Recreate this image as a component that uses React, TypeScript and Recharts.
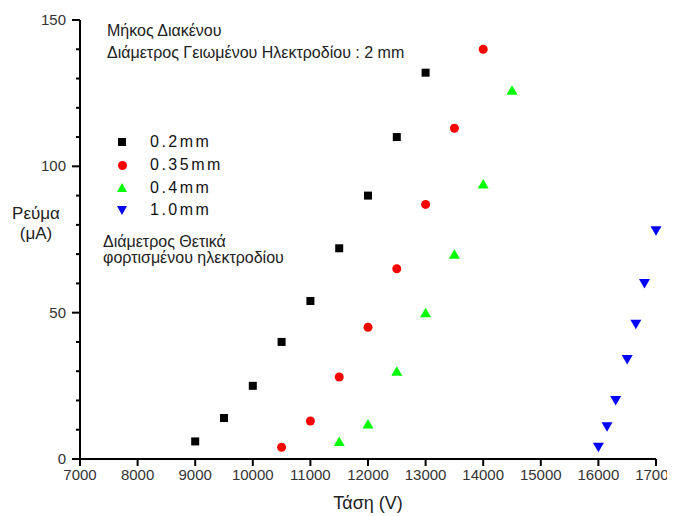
import React from 'react';
import { ScatterChart, Scatter, XAxis, YAxis } from 'recharts';

const xTicks = [7000, 8000, 9000, 10000, 11000, 12000, 13000, 14000, 15000, 16000, 17000];
const yTicks = [0, 10, 20, 30, 40, 50, 60, 70, 80, 90, 100, 110, 120, 130, 140, 150];
const yMajor = [0, 50, 100, 150];

const gap02x = [9000, 9500, 10000, 10500, 11000, 11500, 12000, 12500, 13000];
const gap02y = [6, 14, 25, 40, 54, 72, 90, 110, 132];
const gap035x = [10500, 11000, 11500, 12000, 12500, 13000, 13500, 14000];
const gap035y = [4, 13, 28, 45, 65, 87, 113, 140];
const gap04x = [11500, 12000, 12500, 13000, 13500, 14000, 14500];
const gap04y = [6, 12, 30, 50, 70, 94, 126];
const gap10x = [16000, 16150, 16300, 16500, 16650, 16800, 17000];
const gap10y = [4, 11, 20, 34, 46, 60, 78];

const seriesNames = ['0.2mm', '0.35mm', '0.4mm', '1.0mm'];

const toPoints = (xs: number[], ys: number[]) => xs.map((x, i) => ({ x, y: ys[i] }));

const font = '"Liberation Sans", Arial, sans-serif';

const Square = ({ cx, cy }: any) => <rect x={cx - 4} y={cy - 4} width={8} height={8} fill="#000" />;
const Dot = ({ cx, cy }: any) => <circle cx={cx} cy={cy} r={4.5} fill="#ff0000" />;
const Up = ({ cx, cy }: any) => (
  <polygon points={`${cx - 5.5},${cy + 4.5} ${cx + 5.5},${cy + 4.5} ${cx},${cy - 5}`} fill="#00ff00" />
);
const Down = ({ cx, cy }: any) => (
  <polygon points={`${cx - 5.5},${cy - 4.5} ${cx + 5.5},${cy - 4.5} ${cx},${cy + 5}`} fill="#0000ff" />
);

const shapes = [Square, Dot, Up, Down];

const legendIcons: React.CSSProperties[] = [
  { width: 8, height: 8, background: '#000' },
  { width: 9, height: 9, borderRadius: '50%', background: '#ff0000' },
  { width: 0, height: 0, borderLeft: '5.5px solid transparent', borderRight: '5.5px solid transparent', borderBottom: '9.5px solid #00ff00' },
  { width: 0, height: 0, borderLeft: '5.5px solid transparent', borderRight: '5.5px solid transparent', borderTop: '9.5px solid #0000ff' },
];

// default tickSize 6 + tickMargin 2: the axis line sits 8px from the tick x/y
const YTick = ({ x, y, payload }: any) => {
  const major = yMajor.includes(payload.value);
  const ax = x + 8;
  return (
    <g>
      <rect x={ax - (major ? 8 : 4)} y={y - 1} width={major ? 8 : 4} height={2} fill="black" />
      {major && (
        <text x={ax - 14} y={y} dy={5} textAnchor="end" fill="#333" fontSize={15}>
          {payload.value}
        </text>
      )}
    </g>
  );
};

const XTick = ({ x, y, payload }: any) => {
  const ay = y - 8;
  return (
    <g>
      <rect x={x - 1} y={ay} width={2} height={7} fill="black" />
      <text x={x} y={ay + 21} textAnchor="middle" fill="#333" fontSize={15}>
        {payload.value}
      </text>
    </g>
  );
};

const LegendBox = () => (
  <div style={{ position: 'absolute', left: 106, top: 123 }}>
    {seriesNames.map((name, i) => (
      <div key={name} style={{ display: 'flex', alignItems: 'center', height: 22.7 }}>
        <div style={{ width: 16, height: 16, marginRight: 20, display: 'flex', alignItems: 'center', justifyContent: 'center' }}>
          <div style={legendIcons[i]} />
        </div>
        <span style={{ fontSize: 16, letterSpacing: 2.5, color: '#111' }}>{name}</span>
      </div>
    ))}
  </div>
);

const label = (text: string, left: number, top: number, extra: React.CSSProperties = {}) => (
  <div style={{ position: 'absolute', left, top, fontSize: 16, color: '#222', whiteSpace: 'nowrap', ...extra }}>
    {text}
  </div>
);

export default function App() {
  const series = [
    toPoints(gap02x, gap02y),
    toPoints(gap035x, gap035y),
    toPoints(gap04x, gap04y),
    toPoints(gap10x, gap10y),
  ];

  // the page keeps its 8px body margin, so everything here is shifted by -8
  return (
    <div style={{ position: 'relative', width: 667, height: 508, fontFamily: font }}>
      <ScatterChart width={667} height={508} margin={{ top: 12, right: 19, bottom: 0, left: 0 }}>
        <XAxis
          type="number"
          dataKey="x"
          domain={[7000, 17000]}
          ticks={xTicks}
          interval={0}
          height={57}
          tickLine={false}
          stroke="#000"
          strokeWidth={2}
          tick={<XTick />}
        />
        <YAxis
          type="number"
          dataKey="y"
          domain={[0, 150]}
          ticks={yTicks}
          interval={0}
          width={72}
          tickLine={false}
          stroke="#000"
          strokeWidth={2}
          tick={<YTick />}
        />
        {series.map((pts, i) => (
          <Scatter key={seriesNames[i]} name={seriesNames[i]} data={pts} shape={shapes[i]} isAnimationActive={false} />
        ))}
      </ScatterChart>
      {label('Μήκος Διακένου', 99, 14)}
      {label('Διάμετρος Γειωμένου Ηλεκτροδίου : 2 mm', 99, 36)}
      {label('Διάμετρος Θετικά', 95, 225)}
      {label('φορτισμένου ηλεκτροδίου', 95, 241)}
      <div style={{ position: 'absolute', left: 0, top: 196, width: 56, textAlign: 'center', fontSize: 17, color: '#222', lineHeight: '20px' }}>
        Ρεύμα
        <br />
        (μΑ)
      </div>
      {label('Τάση (V)', 0, 485, { fontSize: 18, width: 720, textAlign: 'center' })}
      <LegendBox />
    </div>
  );
}
